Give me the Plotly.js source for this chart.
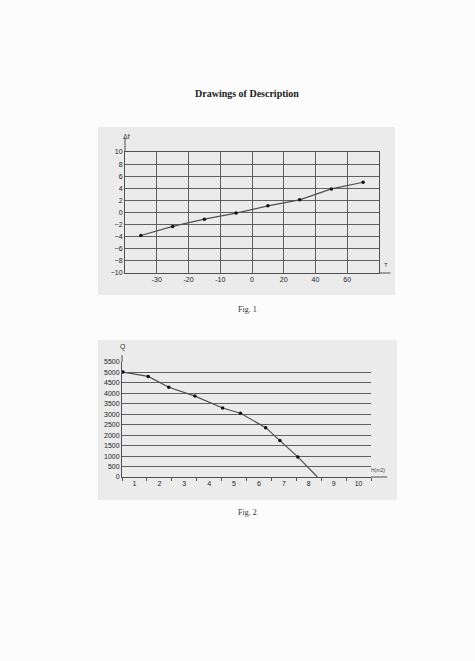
<!DOCTYPE html>
<html>
<head>
<meta charset="utf-8">
<script src="https://cdn.plot.ly/plotly-3.0.1.min.js"></script>
<style>
html,body{margin:0;padding:0;background:#fcfcfc;}
#chart{width:475px;height:661px;}
</style>
</head>
<body>
<div id="chart"></div>
<script>
// ---- Fig. 1 data ----
const fig1TickLabels = ['-30', '-20', '-10', '0', '20', '40', '60'];
const fig1TickPos = [0, 1, 2, 3, 4, 5, 6];
const fig1X = [-0.5, 0.5, 1.5, 2.5, 3.5, 4.5, 5.5, 6.5];
const fig1DeltaF = [-3.8, -2.3, -1.1, -0.1, 1.1, 2.1, 3.9, 5.0];

// ---- Fig. 2 data ----
const fig2TickLabels = ['1', '2', '3', '4', '5', '6', '7', '8', '9', '10'];
const fig2TickPos = [0.5, 1.5, 2.5, 3.5, 4.5, 5.5, 6.5, 7.5, 8.5, 9.5];
const fig2H = [0.04, 1.05, 1.88, 2.93, 4.04, 4.76, 5.77, 6.34, 7.06, 7.85];
const fig2Q = [5020, 4810, 4290, 3870, 3300, 3050, 2360, 1740, 960, 0];

const tickFont = {family: 'Liberation Sans Narrow, Liberation Sans, Arial, sans-serif', size: 7, color: '#222'};
const gridColor = '#606060';
const lineColor = '#505050';

const traces = [
  {x: fig1X, y: fig1DeltaF, xaxis: 'x', yaxis: 'y', mode: 'lines+markers',
   line: {color: lineColor, width: 1.2}, marker: {color: '#111', size: 3.5}},
  {x: fig2H, y: fig2Q, xaxis: 'x2', yaxis: 'y2', mode: 'lines',
   line: {color: lineColor, width: 1.2}},
  {x: fig2H.slice(0, -1), y: fig2Q.slice(0, -1), xaxis: 'x2', yaxis: 'y2', mode: 'markers',
   marker: {color: '#111', size: 3.5}}
];

function label(text, px, py, font) {
  return {text: text, xref: 'paper', yref: 'paper', x: px/475, y: 1 - py/661,
          xanchor: 'center', yanchor: 'middle', showarrow: false, font: font};
}

const serif = 'Liberation Serif, Times New Roman, serif';
const sans = 'Liberation Sans, sans-serif';

const layout = {
  width: 475, height: 661,
  margin: {l: 0, r: 0, t: 0, b: 0},
  paper_bgcolor: '#fcfcfc',
  plot_bgcolor: '#ebebeb',
  showlegend: false,
  xaxis: {
    domain: [125/475, 379/475], anchor: 'y',
    range: [-1, 7], tickvals: fig1TickPos, ticktext: fig1TickLabels,
    showgrid: true, gridcolor: gridColor, gridwidth: 1,
    showline: true, linecolor: '#505050', linewidth: 1, mirror: true,
    zeroline: false, ticks: '', tickfont: tickFont, fixedrange: true
  },
  yaxis: {
    domain: [1 - 273/661, 1 - 152/661], anchor: 'x',
    range: [-10, 10], dtick: 2, tick0: 0,
    showgrid: true, gridcolor: gridColor, gridwidth: 1,
    showline: true, linecolor: '#505050', linewidth: 1, mirror: true,
    zeroline: false, ticks: '', tickfont: tickFont, fixedrange: true
  },
  xaxis2: {
    domain: [122/475, 371/475], anchor: 'y2',
    range: [0, 10], tickvals: fig2TickPos, ticktext: fig2TickLabels,
    showgrid: false, ticks: '',
    minor: {dtick: 1, tick0: 0, ticks: 'outside', ticklen: 3, tickcolor: '#555', showgrid: false},
    showline: true, linecolor: '#505050', linewidth: 1, mirror: false,
    zeroline: false, tickfont: tickFont, fixedrange: true
  },
  yaxis2: {
    domain: [1 - 477/661, 1 - 362/661], anchor: 'x2',
    range: [0, 5500], dtick: 500, tick0: 0,
    showgrid: true, gridcolor: gridColor, gridwidth: 1,
    showline: true, linecolor: '#505050', linewidth: 1, mirror: false,
    zeroline: false, ticks: '', tickfont: tickFont, fixedrange: true
  },
  shapes: [
    // grey scan panels behind the figures
    {type: 'rect', xref: 'paper', yref: 'paper', layer: 'below',
     x0: 98/475, x1: 395/475, y0: 1 - 295/661, y1: 1 - 127/661,
     fillcolor: '#ebebeb', line: {width: 0}},
    {type: 'rect', xref: 'paper', yref: 'paper', layer: 'below',
     x0: 98/475, x1: 397/475, y0: 1 - 500/661, y1: 1 - 340/661,
     fillcolor: '#ebebeb', line: {width: 0}},
    // axis extensions fig 1
    {type: 'line', xref: 'x domain', yref: 'y domain', x0: 0, x1: 0, y0: 1, y1: 1.12,
     line: {color: '#505050', width: 1}},
    {type: 'line', xref: 'x domain', yref: 'y domain', x0: 1, x1: 1.045, y0: 0, y1: 0,
     line: {color: '#505050', width: 1}},
    // axis extensions fig 2
    {type: 'line', xref: 'x2 domain', yref: 'y2 domain', x0: 0, x1: 0, y0: 1, y1: 1.06,
     line: {color: '#505050', width: 1}},
    {type: 'line', xref: 'x2 domain', yref: 'y2 domain', x0: 1, x1: 1.065, y0: 0, y1: 0,
     line: {color: '#505050', width: 1}}
  ],
  annotations: [
    label('<b>Drawings of Description</b>', 247, 93, {family: serif, size: 10, color: '#222'}),
    label('Fig. 1', 247, 309, {family: serif, size: 8, color: '#333'}),
    label('Fig. 2', 247, 512, {family: serif, size: 8, color: '#333'}),
    label('Δf', 126, 136, {family: sans, size: 7, color: '#333'}),
    label('T', 386, 265, {family: sans, size: 6, color: '#333'}),
    label('Q', 123, 347, {family: sans, size: 7, color: '#333'}),
    label('H(m2)', 378, 470, {family: 'Liberation Sans Narrow, Liberation Sans, sans-serif', size: 5, color: '#444'})
  ]
};

Plotly.newPlot('chart', traces, layout, {displayModeBar: false, staticPlot: true});
</script>
</body>
</html>
